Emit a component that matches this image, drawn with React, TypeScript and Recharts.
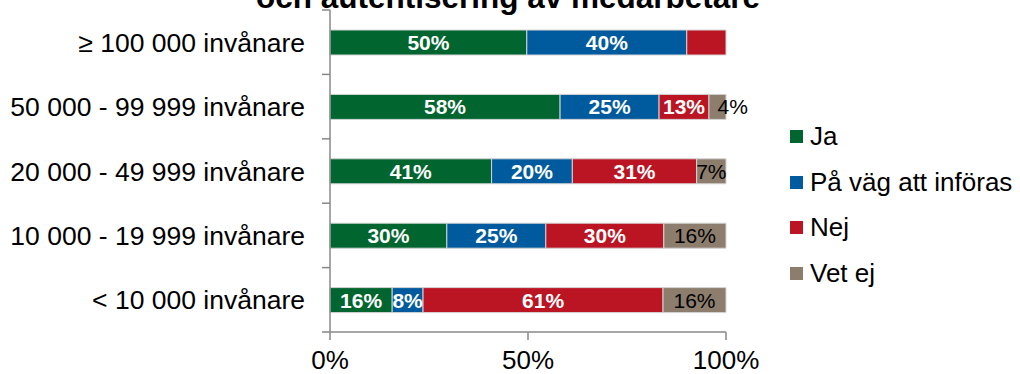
import React from 'react';
import { BarChart, Bar, XAxis, YAxis, LabelList } from 'recharts';

const categories = [
  '≥ 100 000 invånare',
  '50 000 - 99 999 invånare',
  '20 000 - 49 999 invånare',
  '10 000 - 19 999 invånare',
  '< 10 000 invånare',
];
const ja = [49.7, 58.1, 40.8, 29.5, 15.7];
const paVag = [40.4, 25.0, 20.4, 25.0, 7.8];
const nej = [9.9, 12.6, 31.4, 29.8, 60.6];
const vetEj = [0, 4.3, 7.4, 15.7, 15.9];
const xTicks = [0, 50, 100];
const titleText = 'och autentisering av medarbetare';
// labels not printed in the original
const hiddenLabels = [{ row: 0, key: 'nej' }];

const series = [
  { key: 'ja', name: 'Ja', color: '#00652E', labelColor: '#ffffff', bold: true },
  { key: 'paVag', name: 'På väg att införas', color: '#005B9E', labelColor: '#ffffff', bold: true },
  { key: 'nej', name: 'Nej', color: '#BB1422', labelColor: '#ffffff', bold: true },
  { key: 'vetEj', name: 'Vet ej', color: '#8C7D6D', labelColor: '#000000', bold: false },
];

const data = categories.map((cat, i) => ({
  cat,
  ja: ja[i],
  paVag: paVag[i],
  nej: nej[i],
  vetEj: vetEj[i],
}));

const W = 1020;
const H = 374;
const M = { top: 10, right: 294, bottom: 0, left: 0 };
const Y_AXIS_W = 330;
const X_AXIS_H = 42;
const BAND = (H - M.top - M.bottom - X_AXIS_H) / categories.length;
const FONT = 'Arial, "Liberation Sans", sans-serif';
const AXIS_COLOR = '#888888';

const YTick = (props: any) => {
  const { x, y, payload, index } = props;
  const half = BAND / 2;
  return (
    <g>
      <line x1={x - 8} x2={x} y1={y - half} y2={y - half} stroke={AXIS_COLOR} strokeWidth={1.5} />
      {index === categories.length - 1 && (
        <line x1={x - 8} x2={x} y1={y + half} y2={y + half} stroke={AXIS_COLOR} strokeWidth={1.5} />
      )}
      <text x={x - 25} y={y} dy="0.36em" textAnchor="end" fill="#000" fontSize={26.5} fontFamily={FONT}>
        {payload.value}
      </text>
    </g>
  );
};

const makeLabel = (s: (typeof series)[number]) => (p: any) => {
  const { x, y, width, height, value, index } = p;
  if (!value) return null;
  if (hiddenLabels.some((h) => h.row === index && h.key === s.key)) return null;
  const w = Number(width);
  const narrow = w < 24;
  return (
    <text
      x={Number(x) + w / 2}
      y={Number(y) + Number(height) / 2}
      dy="0.36em"
      textAnchor={narrow ? 'start' : 'middle'}
      fill={s.labelColor}
      fontSize={21}
      fontWeight={s.bold ? 'bold' : 'normal'}
      fontFamily={FONT}
    >
      {Math.round(value)}%
    </text>
  );
};

export default function App() {
  return (
    <div style={{ position: 'absolute', left: 0, top: 0, width: W, height: H, background: '#fff', fontFamily: FONT }}>
      <BarChart width={W} height={H} data={data} layout="vertical" margin={M} barSize={25}>
        <XAxis
          type="number"
          domain={[0, 100]}
          ticks={xTicks}
          tickFormatter={(v) => `${v}%`}
          height={X_AXIS_H}
          axisLine={{ stroke: AXIS_COLOR, strokeWidth: 1.5 }}
          tickLine={{ stroke: AXIS_COLOR, strokeWidth: 1.5 }}
          tickSize={8}
          tickMargin={11}
          tick={{ fill: '#000', fontSize: 26, fontFamily: FONT }}
          interval={0}
        />
        <YAxis
          type="category"
          dataKey="cat"
          width={Y_AXIS_W}
          axisLine={{ stroke: AXIS_COLOR, strokeWidth: 1.5 }}
          tickLine={false}
          tickSize={0}
          tickMargin={0}
          tick={<YTick />}
          interval={0}
        />
        {series.map((s) => (
          <Bar
            key={s.key}
            dataKey={s.key}
            name={s.name}
            stackId="a"
            fill={s.color}
            stroke="#d4d4d4"
            strokeWidth={1}
            isAnimationActive={false}
          >
            <LabelList dataKey={s.key} content={makeLabel(s)} />
          </Bar>
        ))}
      </BarChart>
      <svg width={W} height={30} style={{ position: 'absolute', left: 0, top: 0, pointerEvents: 'none' }}>
        <text x={508} y={8} textAnchor="middle" fontSize={31.5} fontWeight="bold" fontFamily={FONT} fill="#000">
          {titleText}
        </text>
      </svg>
      <div style={{ position: 'absolute', left: 790, top: 114 }}>
        {series.map((s) => (
          <div key={s.key} style={{ display: 'flex', alignItems: 'center', height: 45.5 }}>
            <div style={{ width: 13, height: 13, background: s.color, marginRight: 7 }} />
            <span style={{ fontSize: 26, color: '#000', fontFamily: FONT, whiteSpace: 'nowrap' }}>{s.name}</span>
          </div>
        ))}
      </div>
    </div>
  );
}
